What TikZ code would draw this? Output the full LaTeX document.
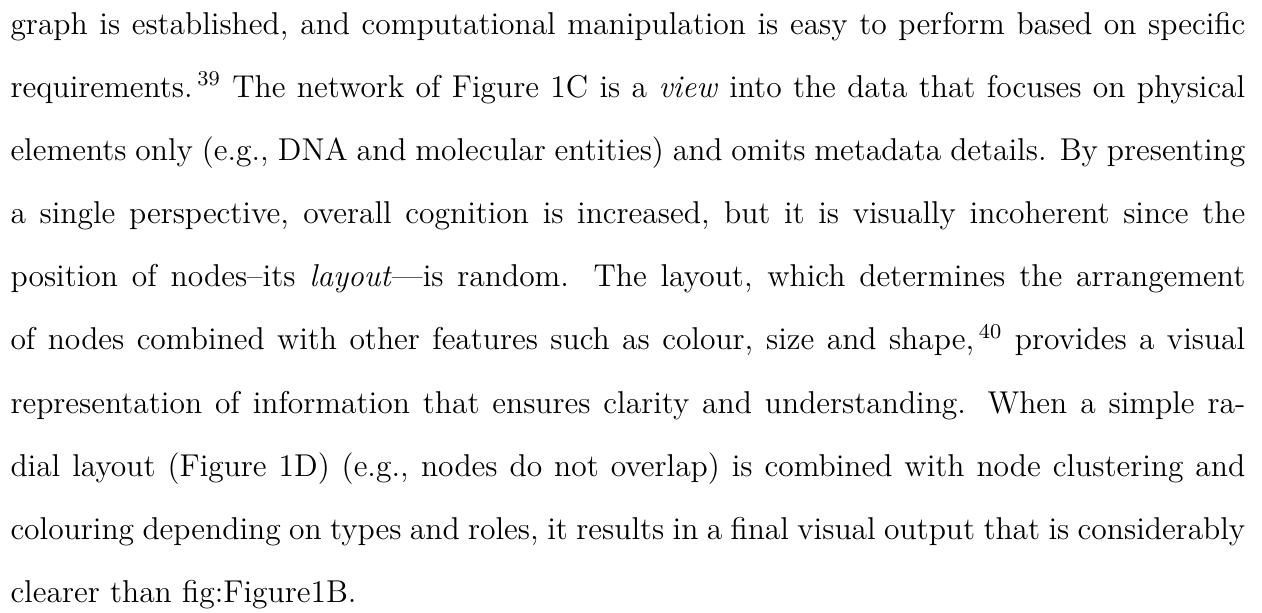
\documentclass[tikz,border=0pt]{standalone}
\begin{document}
\begin{tikzpicture}[x=1pt,y=1pt,
  textline/.style={anchor=base west,inner sep=0pt,outer sep=0pt,
    font=\fontsize{12}{24}\selectfont}]
\def\tw{469.5pt}
% citation mark, set off slightly from the preceding punctuation
\newcommand\citemark[1]{\kern1.8pt\textsuperscript{#1}}
\useasboundingbox[fill=white] (0,0) rectangle (479.85,233.08);
% justified lines of the paragraph, baselines 24pt apart
\node[textline] (l1) at (4.0,220.15) {\hbox to \tw{graph is established, and computational manipulation is easy to perform based on specific}};
\node[textline] (l2) at (4.0,196.12) {\hbox to \tw{requirements.\citemark{39} The network of Figure 1C is a \emph{view} into the data that focuses on physical}};
\node[textline] (l3) at (4.0,172.09) {\hbox to \tw{elements only (e.g., DNA and molecular entities) and omits metadata details. By presenting}};
\node[textline] (l4) at (4.0,148.06) {\hbox to \tw{a single perspective, overall cognition is increased, but it is visually incoherent since the}};
\node[textline] (l5) at (4.0,124.03) {\hbox to \tw{position of nodes–its \emph{layout}—is random. The layout, which determines the arrangement}};
\node[textline] (l6) at (4.0,100.00) {\hbox to \tw{of nodes combined with other features such as colour, size and shape,\citemark{40} provides a visual}};
\node[textline] (l7) at (4.0,75.97) {\hbox to \tw{representation of information that ensures clarity and understanding. When a simple ra-}};
\node[textline] (l8) at (4.0,51.94) {\hbox to \tw{dial layout (Figure 1D) (e.g., nodes do not overlap) is combined with node clustering and}};
\node[textline] (l9) at (4.0,27.91) {\hbox to \tw{colouring depending on types and roles, it results in a final visual output that is considerably}};
\node[textline] (l10) at (4.0,3.88) {clearer than fig:Figure1B.};
\end{tikzpicture}
\end{document}
